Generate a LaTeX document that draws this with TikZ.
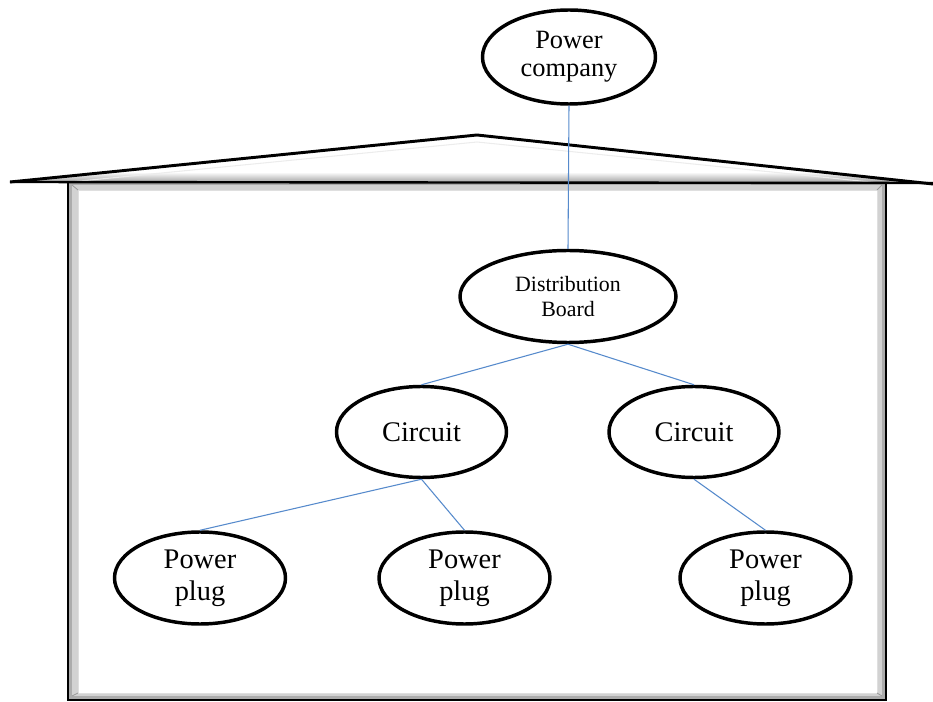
\documentclass[tikz,border=0pt]{standalone}
\usepackage{fontspec}
\setmainfont{Liberation Serif}
\usetikzlibrary{shapes.geometric}
\definecolor{linkblue}{RGB}{86,138,204}
\tikzset{
  oval/.style={ellipse, draw=black, line width=2.6pt, fill=white, align=center, inner sep=0pt, text=black},
  bigtext/.style={font=\fontsize{21.3}{24}\selectfont},
  pctext/.style={font=\fontsize{19.8}{21}\selectfont},
  dbtext/.style={font=\fontsize{16.4}{19.3}\selectfont},
  link/.style={draw=linkblue, line width=0.8pt},
  roofline/.style={line width=2.2pt, line join=miter},
}
\begin{document}
\begin{tikzpicture}[x=0.75pt, y=-0.75pt]
\useasboundingbox (0,0) rectangle (933,702);
% house frame
\fill[gray!65] (68,181) rectangle (886,700);
\fill[gray!35] (72,185) rectangle (882,696);
\fill[white] (78,190) rectangle (877,693);
\draw[gray!25, line width=0.6pt] (78,190) rectangle (877,693);
\draw[gray!80, line width=0.6pt] (72,185) -- (78,190) (882,185) -- (877,190) (72,696) -- (78,693) (882,696) -- (877,693);
\draw[black, line width=1.8pt] (68,700) -- (68,181) -- (886,181) -- (886,700) -- cycle;
% roof
\begin{scope}
\clip (10,182) -- (477,135) -- (933,183) -- cycle;
\shade[top color=white, bottom color=gray!70] (10,172) rectangle (933,182);
\draw[gray!15, line width=0.8pt] (60,183) -- (477,142) -- (880,183);
\end{scope}
\draw[roofline] (10,182) -- (477,135) -- (933,184);
\draw[black, line width=1.8pt] (10,182) -- (933,183);
% nodes
\node[oval, pctext, minimum width=129.75pt, minimum height=70.5pt] (pc) at (569,57) {Power\\company};
\node[oval, dbtext, minimum width=162pt, minimum height=69pt] (db) at (568,296.5) {Distribution\\Board};
\node[oval, bigtext, minimum width=127.5pt, minimum height=68.25pt] (c1) at (421.5,432) {Circuit};
\node[oval, bigtext, minimum width=127.5pt, minimum height=68.25pt] (c2) at (694,432) {Circuit};
\node[oval, bigtext, minimum width=128.25pt, minimum height=69pt] (p1) at (200,578) {Power\\plug};
\node[oval, bigtext, minimum width=128.25pt, minimum height=69pt] (p2) at (464.5,578) {Power\\plug};
\node[oval, bigtext, minimum width=128.25pt, minimum height=69pt] (p3) at (765.5,578) {Power\\plug};
% connectors
\draw[link] (pc.south) -- (db.north);
\draw[link] (db.south) -- (c1.north);
\draw[link] (db.south) -- (c2.north);
\draw[link] (c1.south) -- (p1.north);
\draw[link] (c1.south) -- (p2.north);
\draw[link] (c2.south) -- (p3.north);
\end{tikzpicture}
\end{document}
